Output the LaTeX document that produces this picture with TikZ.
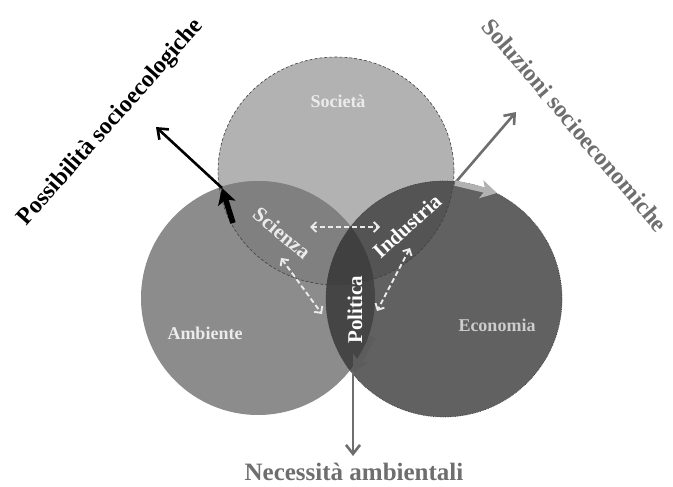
\documentclass[tikz,border=0pt]{standalone}
\usepackage{fontspec}
\setmainfont{Liberation Serif}
\usetikzlibrary{arrows.meta}
\definecolor{cT}{gray}{0.70}
\definecolor{cL}{gray}{0.55}
\definecolor{cR}{gray}{0.38}
\definecolor{cTL}{gray}{0.50}
\definecolor{cTR}{gray}{0.33}
\definecolor{cLR}{gray}{0.27}
\definecolor{cTLR}{gray}{0.25}
\definecolor{cEdge}{gray}{0.25}
\definecolor{cTxt}{gray}{0.92}
\definecolor{cGrey}{gray}{0.43}
\definecolor{cLight}{gray}{0.70}
\definecolor{cDark}{gray}{0.36}
\tikzset{
  lbl/.style={font=\bfseries\fontsize{18}{20}\selectfont, text=cTxt, inner sep=0pt},
  biglbl/.style={font=\bfseries\fontsize{21}{23}\selectfont, text=cTxt, inner sep=0pt},
  outer/.style={font=\bfseries\fontsize{24}{26}\selectfont, inner sep=0pt},
  dbl/.style={draw=cTxt, line width=1.9pt, dash pattern=on 5pt off 3pt, {Straight Barb[length=5pt,width=10pt]}-{Straight Barb[length=5pt,width=10pt]}},
  thinarr/.style={line width=2.6pt, -{Straight Barb[length=9pt,width=14pt]}},
  fatarr/.style={line width=5.5pt, -{Stealth[length=16pt,width=18pt,inset=4pt]}}
}
\begin{document}
\begin{tikzpicture}[x=1pt,y=-1pt]
\useasboundingbox (0,0) rectangle (673,487);
\def\cT{(336,171) ellipse [x radius=118, y radius=114]}
\def\cL{(258,298) circle [radius=117]}
\def\cR{(444,299) circle [radius=118]}
% fills
\fill[cT] \cT;
\fill[cL] \cL;
\fill[cR] \cR;
\begin{scope}\clip \cL; \fill[cTL] \cT; \end{scope}
\begin{scope}\clip \cR; \fill[cTR] \cT; \end{scope}
\begin{scope}\clip \cL; \fill[cLR] \cR; \end{scope}
\begin{scope}\clip \cL; \clip \cT; \fill[cTLR] \cR; \end{scope}
% outlines
\draw[cEdge, line width=0.6pt, dash pattern=on 3pt off 2pt] \cT;
\draw[cEdge, line width=0.7pt, densely dotted] \cR;
% coordinates
\coordinate (tl) at (222,188);
\coordinate (tlS) at (233,223);
\coordinate (tlE) at (156,127);
\coordinate (tr) at (455,183);
\coordinate (trE) at (516,112);
\coordinate (trF) at (497,193);
\coordinate (bt) at (353,372);
\coordinate (btS) at (373,337);
\coordinate (btE) at (353,456);
% arrows
\draw[thinarr, black] (tl) -- (tlE);
\draw[fatarr, black] (tlS) -- (tl);
\draw[thinarr, cGrey] (tr) -- (trE);
\draw[fatarr, cLight] (tr) -- (trF);
\draw[thinarr, cGrey] (bt) -- (btE);
\draw[fatarr, cDark] (btS) -- (bt);
% dashed double arrows
\coordinate (h1) at (310,227); \coordinate (h2) at (380,227);
\coordinate (d1) at (281,258); \coordinate (d2) at (322,314);
\coordinate (e1) at (410,248); \coordinate (e2) at (377,311);
\draw[dbl] (h1) -- (h2);
\draw[dbl] (d1) -- (d2);
\draw[dbl] (e1) -- (e2);
% labels
\node[lbl] (soc) at (338,101) {Società};
\node[lbl] (amb) at (205,333) {Ambiente};
\node[lbl, text=black!20] (eco) at (497,325) {Economia};
\node[biglbl, rotate=-40] (sci) at (282,233) {Scienza};
\node[biglbl, rotate=42, text=white] (ind) at (407,226) {Industria};
\node[biglbl, rotate=90, text=white] (pol) at (355,310) {Politica};
\node[font=\bfseries\fontsize{25}{27}\selectfont, text=cGrey, inner sep=0pt] (nec) at (354,472) {Necessità ambientali};
\node[outer, rotate=48.5, text=black] (pos) at (111,123) {Possibilità socioecologiche};
\node[outer, rotate=-49.5, text=cGrey] (sol) at (575,125) {Soluzioni socioeconomiche};
\end{tikzpicture}
\end{document}
